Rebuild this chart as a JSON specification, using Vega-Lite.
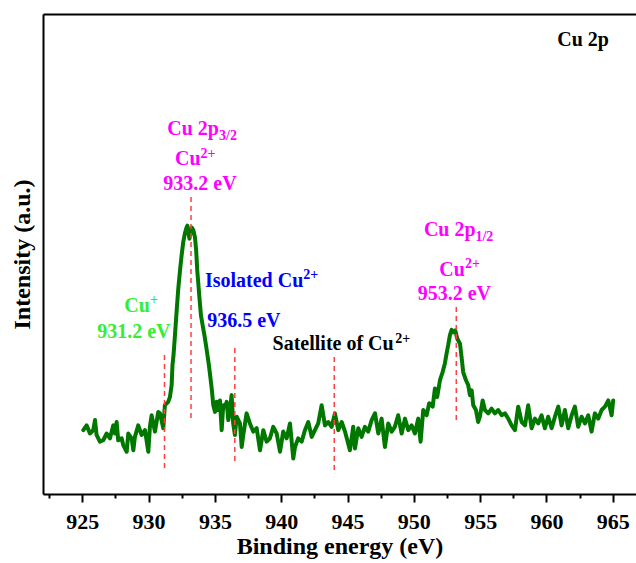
{
  "$schema": "https://vega.github.io/schema/vega-lite/v6.json",
  "autosize": {"type": "none"},
  "padding": {"left": 43, "top": 14, "right": 0, "bottom": 69},
  "width": 593,
  "height": 480,
  "config": {
    "view": {"stroke": null},
    "font": "Liberation Serif",
    "axis": {"domainColor": "#000", "domainWidth": 2, "tickColor": "#000", "tickWidth": 2, "labelColor": "#000", "titleColor": "#000", "grid": false},
    "axisY": {"ticks": false, "labels": false, "domain": true, "titleFont": "Liberation Serif", "titleFontWeight": "bold", "titleFontSize": 24, "titleAngle": -90,
      "titleBaseline": "alphabetic", "titleAlign": "center", "titleX": -13.5, "titleY": 240}
  },
  "datasets": {
    "spectrum": [
      {"be": 925.08, "intensity": 13.3}, {"be": 925.33, "intensity": 14.3}, {"be": 925.58, "intensity": 12.6}, {"be": 925.83, "intensity": 13.3}, {"be": 925.96, "intensity": 15.4},
      {"be": 926.08, "intensity": 12.3}, {"be": 926.33, "intensity": 10.9}, {"be": 926.58, "intensity": 11.2}, {"be": 926.84, "intensity": 12.6}, {"be": 927.09, "intensity": 11.6},
      {"be": 927.34, "intensity": 14.3}, {"be": 927.47, "intensity": 12.6}, {"be": 927.59, "intensity": 15.0}, {"be": 927.71, "intensity": 11.2}, {"be": 927.97, "intensity": 11.6},
      {"be": 928.09, "intensity": 10.2}, {"be": 928.35, "intensity": 8.8}, {"be": 928.47, "intensity": 12.6}, {"be": 928.72, "intensity": 11.6}, {"be": 928.85, "intensity": 9.1},
      {"be": 928.97, "intensity": 11.9}, {"be": 929.22, "intensity": 14.3}, {"be": 929.48, "intensity": 12.3}, {"be": 929.73, "intensity": 13.3}, {"be": 929.98, "intensity": 8.8},
      {"be": 930.10, "intensity": 14.0}, {"be": 930.23, "intensity": 16.4}, {"be": 930.48, "intensity": 13.0}, {"be": 930.73, "intensity": 17.1}, {"be": 930.86, "intensity": 16.8},
      {"be": 931.11, "intensity": 13.7}, {"be": 931.23, "intensity": 18.5}, {"be": 931.48, "intensity": 19.2}, {"be": 931.61, "intensity": 20.2}, {"be": 931.74, "intensity": 22.7},
      {"be": 931.80, "intensity": 26.8}, {"be": 931.88, "intensity": 28.9}, {"be": 931.99, "intensity": 33.1}, {"be": 932.12, "intensity": 38.3}, {"be": 932.24, "intensity": 42.8},
      {"be": 932.37, "intensity": 46.6}, {"be": 932.49, "intensity": 49.7}, {"be": 932.61, "intensity": 52.4}, {"be": 932.74, "intensity": 54.3}, {"be": 932.86, "intensity": 55.5},
      {"be": 932.93, "intensity": 55.9}, {"be": 933.01, "intensity": 54.5}, {"be": 933.08, "intensity": 53.2}, {"be": 933.16, "intensity": 54.5}, {"be": 933.27, "intensity": 55.5},
      {"be": 933.38, "intensity": 54.9}, {"be": 933.50, "intensity": 53.4}, {"be": 933.59, "intensity": 50.7}, {"be": 933.67, "intensity": 46.6}, {"be": 933.76, "intensity": 43.5},
      {"be": 933.84, "intensity": 40.7}, {"be": 933.95, "intensity": 37.2}, {"be": 934.08, "intensity": 35.1}, {"be": 934.21, "intensity": 33.1}, {"be": 934.33, "intensity": 31.0},
      {"be": 934.44, "intensity": 28.9}, {"be": 934.55, "intensity": 26.8}, {"be": 934.76, "intensity": 22.0}, {"be": 934.88, "intensity": 18.5}, {"be": 935.01, "intensity": 17.1},
      {"be": 935.13, "intensity": 19.2}, {"be": 935.25, "intensity": 17.5}, {"be": 935.38, "intensity": 19.5}, {"be": 935.51, "intensity": 13.3}, {"be": 935.63, "intensity": 18.5},
      {"be": 935.76, "intensity": 18.2}, {"be": 935.89, "intensity": 19.2}, {"be": 936.01, "intensity": 15.4}, {"be": 936.14, "intensity": 17.5}, {"be": 936.26, "intensity": 20.6},
      {"be": 936.38, "intensity": 14.7}, {"be": 936.51, "intensity": 12.3}, {"be": 936.64, "intensity": 16.1}, {"be": 936.89, "intensity": 14.7}, {"be": 937.02, "intensity": 9.8},
      {"be": 937.14, "intensity": 12.3}, {"be": 937.39, "intensity": 16.8}, {"be": 937.64, "intensity": 14.7}, {"be": 937.89, "intensity": 13.0}, {"be": 938.15, "intensity": 13.7},
      {"be": 938.40, "intensity": 9.1}, {"be": 938.65, "intensity": 13.3}, {"be": 938.90, "intensity": 10.9}, {"be": 939.15, "intensity": 11.6}, {"be": 939.40, "intensity": 14.0},
      {"be": 939.66, "intensity": 12.6}, {"be": 939.91, "intensity": 8.8}, {"be": 940.15, "intensity": 13.0}, {"be": 940.41, "intensity": 11.6}, {"be": 940.66, "intensity": 14.7},
      {"be": 940.91, "intensity": 7.4}, {"be": 941.04, "intensity": 9.8}, {"be": 941.28, "intensity": 11.6}, {"be": 941.54, "intensity": 10.9}, {"be": 941.79, "intensity": 13.3},
      {"be": 942.04, "intensity": 15.0}, {"be": 942.30, "intensity": 11.9}, {"be": 942.54, "intensity": 13.3}, {"be": 942.79, "intensity": 14.7}, {"be": 943.05, "intensity": 18.5},
      {"be": 943.30, "intensity": 14.3}, {"be": 943.55, "intensity": 15.0}, {"be": 943.80, "intensity": 14.0}, {"be": 944.05, "intensity": 16.8}, {"be": 944.30, "intensity": 13.3},
      {"be": 944.56, "intensity": 15.0}, {"be": 944.81, "intensity": 13.0}, {"be": 945.18, "intensity": 9.1}, {"be": 945.43, "intensity": 14.0}, {"be": 945.56, "intensity": 9.5},
      {"be": 945.81, "intensity": 13.7}, {"be": 946.06, "intensity": 11.9}, {"be": 946.31, "intensity": 14.0}, {"be": 946.56, "intensity": 13.0}, {"be": 946.82, "intensity": 15.4},
      {"be": 947.07, "intensity": 16.8}, {"be": 947.32, "intensity": 12.6}, {"be": 947.57, "intensity": 15.7}, {"be": 947.82, "intensity": 9.8}, {"be": 948.07, "intensity": 14.7},
      {"be": 948.33, "intensity": 13.0}, {"be": 948.57, "intensity": 14.0}, {"be": 948.82, "intensity": 16.4}, {"be": 949.08, "intensity": 12.6}, {"be": 949.33, "intensity": 15.7},
      {"be": 949.58, "intensity": 13.3}, {"be": 949.83, "intensity": 14.3}, {"be": 950.08, "intensity": 12.6}, {"be": 950.33, "intensity": 15.7}, {"be": 950.51, "intensity": 10.9},
      {"be": 950.71, "intensity": 17.5}, {"be": 950.96, "intensity": 16.4}, {"be": 951.16, "intensity": 18.9}, {"be": 951.42, "intensity": 18.2}, {"be": 951.59, "intensity": 22.0},
      {"be": 951.76, "intensity": 20.2}, {"be": 951.97, "intensity": 23.7}, {"be": 952.17, "intensity": 25.4}, {"be": 952.34, "intensity": 27.2}, {"be": 952.47, "intensity": 29.3},
      {"be": 952.59, "intensity": 31.0}, {"be": 952.72, "intensity": 33.1}, {"be": 952.85, "intensity": 34.2}, {"be": 952.97, "intensity": 33.7}, {"be": 953.12, "intensity": 34.1},
      {"be": 953.27, "intensity": 32.4}, {"be": 953.48, "intensity": 31.3}, {"be": 953.60, "intensity": 28.5}, {"be": 953.72, "intensity": 25.4}, {"be": 953.93, "intensity": 23.7},
      {"be": 954.10, "intensity": 22.7}, {"be": 954.23, "intensity": 20.6}, {"be": 954.36, "intensity": 21.6}, {"be": 954.48, "intensity": 18.5}, {"be": 954.68, "intensity": 17.5},
      {"be": 954.85, "intensity": 15.0}, {"be": 954.98, "intensity": 16.1}, {"be": 955.19, "intensity": 19.5}, {"be": 955.36, "intensity": 17.5}, {"be": 955.61, "intensity": 16.8},
      {"be": 955.86, "intensity": 17.8}, {"be": 956.11, "intensity": 16.8}, {"be": 956.36, "intensity": 17.5}, {"be": 956.62, "intensity": 16.4}, {"be": 956.87, "intensity": 16.8},
      {"be": 957.12, "intensity": 15.7}, {"be": 957.37, "intensity": 14.3}, {"be": 957.62, "intensity": 13.3}, {"be": 957.87, "intensity": 18.2}, {"be": 958.13, "intensity": 15.0},
      {"be": 958.38, "intensity": 14.3}, {"be": 958.62, "intensity": 18.5}, {"be": 958.88, "intensity": 13.7}, {"be": 959.13, "intensity": 15.7}, {"be": 959.38, "intensity": 14.7},
      {"be": 959.63, "intensity": 16.4}, {"be": 959.88, "intensity": 13.7}, {"be": 960.13, "intensity": 16.1}, {"be": 960.39, "intensity": 13.7}, {"be": 960.64, "intensity": 16.1},
      {"be": 960.89, "intensity": 18.2}, {"be": 961.14, "intensity": 14.3}, {"be": 961.39, "intensity": 17.5}, {"be": 961.64, "intensity": 13.7}, {"be": 961.90, "intensity": 16.4},
      {"be": 962.14, "intensity": 18.2}, {"be": 962.39, "intensity": 14.0}, {"be": 962.65, "intensity": 16.1}, {"be": 962.90, "intensity": 14.7}, {"be": 963.15, "intensity": 16.4},
      {"be": 963.40, "intensity": 13.0}, {"be": 963.65, "intensity": 16.8}, {"be": 963.90, "intensity": 15.7}, {"be": 964.16, "intensity": 17.5}, {"be": 964.41, "intensity": 18.2},
      {"be": 964.66, "intensity": 19.5}, {"be": 964.91, "intensity": 16.4}, {"be": 965.03, "intensity": 19.5}
    ],
    "markers": [
      {"be": 931.2, "y1": 28.96, "y2": 5.0},
      {"be": 933.2, "y1": 61.88, "y2": 15.21},
      {"be": 936.5, "y1": 30.42, "y2": 6.04},
      {"be": 944.0, "y1": 28.54, "y2": 4.17},
      {"be": 953.2, "y1": 38.96, "y2": 14.79}
    ],
    "labels": [
      {"be": 931.41, "intensity": 74.79, "text": "Cu 2p", "group": "cu2_main"},
      {"be": 931.99, "intensity": 68.54, "text": "Cu", "group": "cu2_main"},
      {"be": 931.11, "intensity": 63.33, "text": "933.2 eV", "group": "cu2_main"},
      {"be": 934.25, "intensity": 43.19, "text": "Isolated Cu", "group": "isolated"},
      {"be": 934.42, "intensity": 34.85, "text": "936.5 eV", "group": "isolated"},
      {"be": 928.17, "intensity": 37.98, "text": "Cu", "group": "cu_plus"},
      {"be": 926.13, "intensity": 32.44, "text": "931.2 eV", "group": "cu_plus"},
      {"be": 939.35, "intensity": 30.0, "text": "Satellite of Cu", "group": "satellite"},
      {"be": 950.76, "intensity": 53.75, "text": "Cu 2p", "group": "cu2_main"},
      {"be": 951.92, "intensity": 45.42, "text": "Cu", "group": "cu2_main"},
      {"be": 950.29, "intensity": 40.42, "text": "953.2 eV", "group": "cu2_main"},
      {"be": 960.81, "intensity": 93.4, "text": "Cu 2p", "group": "satellite"}
    ],
    "scripts": [
      {"be": 935.31, "intensity": 73.75, "text": "3/2", "group": "cu2_main"},
      {"be": 933.92, "intensity": 70.0, "text": "2+", "group": "cu2_main"},
      {"be": 941.66, "intensity": 44.69, "text": "2+", "group": "isolated"},
      {"be": 930.10, "intensity": 39.48, "text": "+", "group": "cu_plus"},
      {"be": 948.6, "intensity": 31.46, "text": "2+", "group": "satellite"},
      {"be": 954.64, "intensity": 52.71, "text": "1/2", "group": "cu2_main"},
      {"be": 953.85, "intensity": 46.98, "text": "2+", "group": "cu2_main"}
    ]
  },
  "resolve": {"axis": {"x": "independent"}},
  "layer": [
    {
      "data": {"name": "spectrum"},
      "mark": {"type": "line", "color": "#007800", "strokeWidth": 4, "strokeJoin": "round", "strokeCap": "round"},
      "encoding": {
        "x": {"field": "be", "type": "quantitative",
          "scale": {"domain": [922.04, 966.75], "nice": false, "zero": false},
          "axis": {"orient": "bottom", "values": [925, 930, 935, 940, 945, 950, 955, 960, 965], "tickSize": 8,
            "labelFont": "Liberation Serif", "labelFontWeight": "bold", "labelFontSize": 22, "labelPadding": 9, "labelOverlap": false, "labelFlush": false,
            "title": "Binding energy (eV)", "titleFont": "Liberation Serif", "titleFontWeight": "bold", "titleFontSize": 24,
            "titleBaseline": "alphabetic", "titleY": 59}},
        "y": {"field": "intensity", "type": "quantitative", "title": "Intensity (a.u.)",
          "scale": {"domain": [0, 100], "nice": false, "zero": false}}
      }
    },
    {
      "data": {"name": "markers"},
      "mark": {"type": "rule", "color": "#ff4040", "strokeWidth": 1.5, "strokeDash": [5, 4]},
      "encoding": {
        "x": {"field": "be", "type": "quantitative",
          "axis": {"orient": "bottom", "values": [922.5, 927.5, 932.5, 937.5, 942.5, 947.5, 952.5, 957.5, 962.5], "tickSize": 4, "labels": false, "domain": false, "title": null}},
        "y": {"field": "y1", "type": "quantitative", "title": "Intensity (a.u.)"},
        "y2": {"field": "y2"}
      }
    },
    {
      "data": {"name": "labels"},
      "mark": {"type": "text", "font": "Liberation Serif", "fontWeight": "bold", "fontSize": 20, "align": "left", "baseline": "alphabetic"},
      "encoding": {
        "x": {"field": "be", "type": "quantitative",
          "axis": {"orient": "top", "ticks": false, "labels": false, "domain": true, "title": null}},
        "y": {"field": "intensity", "type": "quantitative", "title": "Intensity (a.u.)"},
        "text": {"field": "text"},
        "color": {"field": "group", "type": "nominal", "legend": null,
          "scale": {"domain": ["cu2_main", "isolated", "cu_plus", "satellite"], "range": ["#ff00ff", "#0000ff", "#33ee33", "#000000"]}}
      }
    },
    {
      "data": {"name": "scripts"},
      "mark": {"type": "text", "font": "Liberation Serif", "fontWeight": "bold", "fontSize": 14, "align": "left", "baseline": "alphabetic"},
      "encoding": {
        "x": {"field": "be", "type": "quantitative", "axis": null},
        "y": {"field": "intensity", "type": "quantitative", "title": "Intensity (a.u.)"},
        "text": {"field": "text"},
        "color": {"field": "group", "type": "nominal", "legend": null,
          "scale": {"domain": ["cu2_main", "isolated", "cu_plus", "satellite"], "range": ["#ff00ff", "#0000ff", "#33ee33", "#000000"]}}
      }
    }
  ]
}
